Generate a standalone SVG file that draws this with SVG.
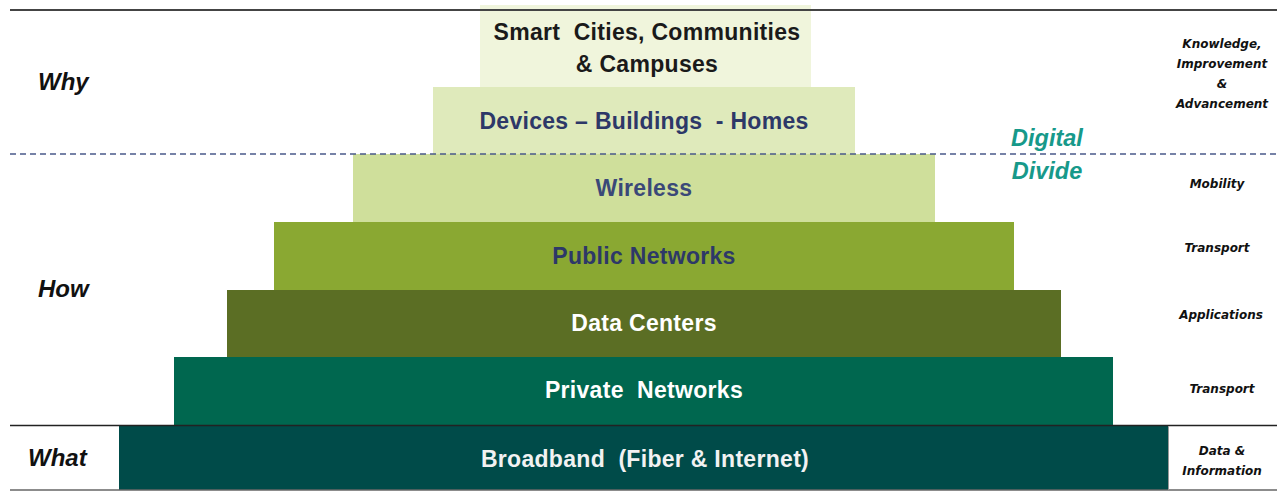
<svg xmlns="http://www.w3.org/2000/svg" width="1277" height="491" viewBox="0 0 1277 491">
<style>
.blk text{font-family:"Liberation Sans",Arial,sans-serif;font-weight:bold;font-size:23px;letter-spacing:0.3px;text-anchor:middle;dominant-baseline:central;white-space:pre}
.side{font-family:"Liberation Sans",Arial,sans-serif;font-weight:bold;font-style:italic;font-size:24px;fill:#111}
.rt{font-family:"DejaVu Sans",Verdana,sans-serif;font-weight:bold;font-style:italic;font-size:12px;fill:#111;text-anchor:middle}
.dd{font-family:"Liberation Sans",Arial,sans-serif;font-style:italic;font-weight:bold;font-size:23.5px;fill:#17998a;text-anchor:middle}
</style>
<rect width="1277" height="491" fill="#fff"/>
<g id="smart" class="blk"><rect x="480" y="5" width="331" height="82" fill="#f0f5dc"/><text x="647" y="32" fill="#1a1a1a">Smart  Cities, Communities</text><text x="647" y="64" fill="#1a1a1a">&amp; Campuses</text></g>
<g id="devices" class="blk"><rect x="433" y="87" width="422" height="67" fill="#dfeabb"/><text x="644" y="121" fill="#2d3868">Devices – Buildings  - Homes</text></g>
<g id="wireless" class="blk"><rect x="353" y="154" width="582" height="68" fill="#cfdf9b"/><text x="644" y="188" fill="#3a4878">Wireless</text></g>
<g id="public" class="blk"><rect x="274" y="222" width="740" height="68" fill="#8aa832"/><text x="644" y="256" fill="#2d3868">Public Networks</text></g>
<g id="datacenters" class="blk"><rect x="227" y="290" width="834" height="67" fill="#5b6e24"/><text x="644" y="323" fill="#fff">Data Centers</text></g>
<g id="private" class="blk"><rect x="174" y="357" width="939" height="68" fill="#00674f"/><text x="644" y="390" fill="#fff">Private  Networks</text></g>
<g id="broadband" class="blk"><rect x="119" y="426" width="1049" height="64" fill="#004b49"/><text x="645" y="459" fill="#f2f2f2">Broadband  (Fiber &amp; Internet)</text></g>
<g id="lines">
<line x1="10" y1="10" x2="1277" y2="10" stroke="#444" stroke-width="2"/>
<line x1="10" y1="154" x2="1277" y2="154" stroke="#4a5a8a" stroke-width="1.5" stroke-dasharray="6,4"/>
<line x1="10" y1="425.5" x2="1277" y2="425.5" stroke="#222" stroke-width="1.5"/>
<line x1="10" y1="490" x2="1277" y2="490" stroke="#666" stroke-width="1.5"/>
<line x1="1168.5" y1="426" x2="1168.5" y2="490" stroke="#999" stroke-width="1"/>
</g>
<g id="left-labels">
<text class="side" x="38" y="90">Why</text>
<text class="side" x="38" y="297">How</text>
<text class="side" x="28" y="466">What</text>
</g>
<g id="digital-divide"><text class="dd" x="1047" y="146">Digital</text><text class="dd" x="1047" y="179">Divide</text></g>
<g id="right-labels">
<text class="rt" x="1222" y="48">Knowledge,</text>
<text class="rt" x="1222" y="68">Improvement</text>
<text class="rt" x="1222" y="88">&amp;</text>
<text class="rt" x="1222" y="108">Advancement</text>
<text class="rt" x="1217" y="188">Mobility</text>
<text class="rt" x="1217" y="252">Transport</text>
<text class="rt" x="1221" y="319">Applications</text>
<text class="rt" x="1222" y="393">Transport</text>
<text class="rt" x="1222" y="455">Data &amp;</text>
<text class="rt" x="1222" y="475">Information</text>
</g>
</svg>
